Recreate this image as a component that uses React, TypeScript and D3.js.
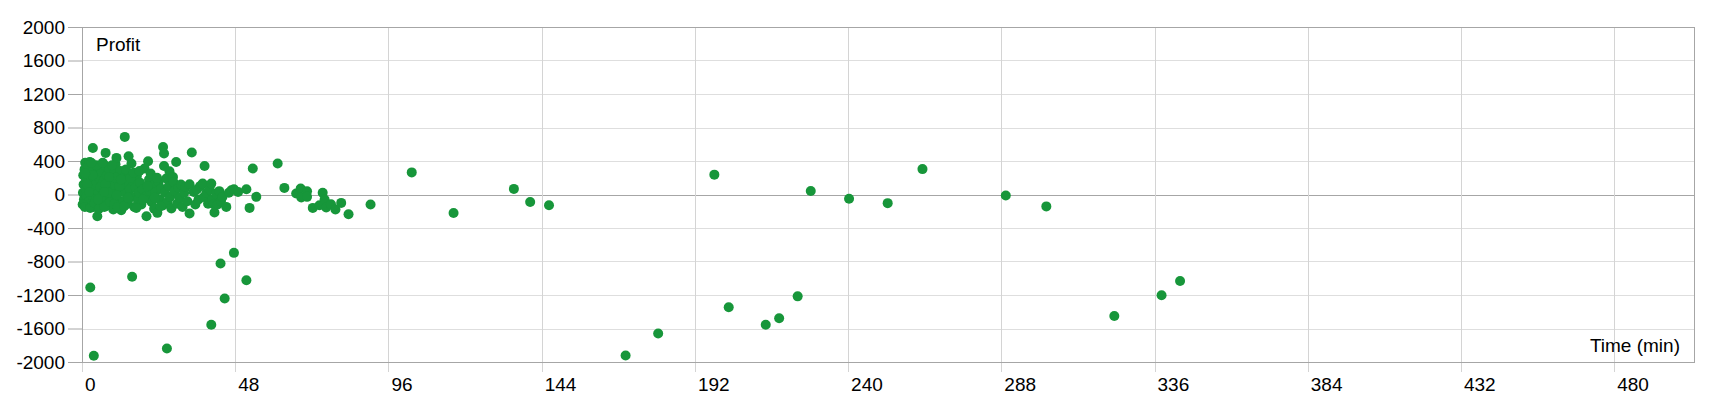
import { useEffect, useRef } from 'react';
import * as d3 from 'd3';

// trade duration (minutes) and profit
const timeMin = [
  0.3, 0.5, 0.4, 0.6, 0.8, 1.0, 1.2, 1.5, 1.3, 1.8, 2.0, 2.1, 2.4, 2.5, 2.8, 3.0, 3.2, 3.4, 3.5, 3.7,
  3.9, 4.2, 4.4, 4.8, 4.6, 5.0, 5.2, 5.5, 5.8, 6.0, 6.2, 6.6, 6.8, 7.1, 7.4, 7.5, 7.8, 8.0, 8.3, 8.6,
  9.0, 9.2, 9.5, 9.8, 10.0, 10.3, 10.5, 10.8, 11.0, 11.3, 11.6, 12.0, 12.3, 12.5, 12.8, 13.0, 13.4, 13.6, 14.0, 14.3,
  14.6, 14.8, 15.0, 15.5, 15.7, 16.0, 16.4, 16.8, 17.2, 17.5, 17.8, 18.2, 18.6, 19.0, 19.6, 20.0, 20.2, 20.7, 21.0, 21.4,
  21.8, 22.2, 22.6, 23.0, 23.6, 24.0, 24.4, 24.8, 25.3, 25.4, 25.7, 25.7, 26.0, 26.4, 26.8, 27.2, 27.4, 27.6, 28.0, 28.5,
  28.6, 29.0, 29.5, 29.8, 30.2, 30.6, 31.0, 31.5, 32.0, 32.5, 33.0, 33.7, 33.7, 34.4, 35.0, 35.5, 36.0, 36.5, 37.0, 37.8,
  38.2, 38.4, 39.0, 39.5, 40.0, 40.5, 40.8, 41.5, 41.2, 42.0, 42.5, 43.0, 43.5, 44.0, 45.2, 46.0, 46.8, 47.6, 48.9, 51.5,
  52.5, 53.5, 54.6, 61.3, 63.4, 67.1, 68.5, 68.7, 70.5, 70.5, 72.3, 74.4, 75.4, 76.0, 76.5, 78.0, 79.4, 81.2, 83.5, 90.4,
  0.2, 0.9, 1.6, 2.2, 2.6, 3.3, 4.0, 4.5, 5.3, 5.7, 6.3, 6.5, 7.0, 7.3, 8.2, 8.8, 9.4, 10.1, 10.6, 11.2,
  11.8, 12.2, 13.2, 13.8, 14.5, 15.2, 16.2, 17.0, 18.0, 19.2, 20.5, 21.5, 22.8, 23.5, 24.6, 1.0, 2.9, 5.0, 6.9, 8.5,
  10.9,
  2.6, 3.7, 15.7, 26.6, 40.5, 43.4, 44.7, 47.6, 51.5, 103.3, 116.4, 135.3, 140.4, 146.3, 170.3, 180.5, 198.1, 202.6, 214.2, 218.4,
  224.2, 228.3, 240.3, 252.4, 263.3, 289.4, 302.1, 323.4, 338.2, 344.0,
];

const profit = [
  20, 120, 230, -60, 300, 380, 60, -20, 180, 270, 340, -90, 389, 100, 210, -10, 150, 556, 300, -148,
  60, 240, -40, -259, 140, 330, 20, 190, -110, 80, 270, -60, 160, 350, 497, 40, 230, -130, 110, 300,
  -30, 190, 60, -180, 250, 120, 360, 437, -50, 170, 30, 280, -187, 90, -80, 200, 688, 20, 120, -110,
  457, 240, 60, 370, -30, 160, -150, 80, 220, -60, 20, 140, -120, 60, 310, -20, -259, 397, 180, 40,
  -90, 110, -170, 30, -219, 150, -60, 70, -130, 568, 489, 341, 20, 190, -90, 100, 278, -30, -167, 210,
  150, 40, 389, -110, 80, -40, 120, -150, 20, 90, -80, 123, -227, 501, 30, -120, 60, -60, 100, 130,
  -30, 341, 20, -110, 60, 130, -60, -215, -116, 10, -120, 40, -80, -30, -148, 20, 51, 63, 31, 63,
  -160, 310, -28, 370, 79, 12, 71, -36, 39, -28, -160, -128, 20, -60, -155, -116, -179, -100, -235, -120,
  -120, -150, 120, 30, -160, 230, -100, 350, -170, 90, -20, 380, -150, 120, 20, -90, 350, -110, 200, -150,
  100, 180, -140, 300, -40, 200, 260, -160, 280, -60, 100, 250, -40, 200, -140, 250, 380, -60, 30, 210,
  -10,
  -1110, -1926, -983, -1838, -1556, -823, -1241, -697, -1023, 264, -221, 67, -90, -129, -1922, -1659, 237, -1347, -1556, -1477,
  -1216, 41, -51, -103, 303, -12, -142, -1451, -1203, -1032,
];

const xTicks = [0, 48, 96, 144, 192, 240, 288, 336, 384, 432, 480];
const yTicks = [-2000, -1600, -1200, -800, -400, 0, 400, 800, 1200, 1600, 2000];

const width = 1720;
const height = 400;

const App = () => {
  const svgRef = useRef<SVGSVGElement>(null);

  useEffect(() => {
    if (!svgRef.current) return;
    d3.select(svgRef.current).selectAll('*').remove();

    const margin = { top: 27, right: 26, bottom: 38, left: 82 };
    const innerWidth = width - margin.left - margin.right;
    const innerHeight = height - margin.top - margin.bottom;
    const font = '"Liberation Sans", Arial, sans-serif';
    const fontSize = '19px';

    const svg = d3.select(svgRef.current);
    const g = svg.append('g')
      .attr('transform', `translate(${margin.left},${margin.top})`);

    const x = d3.scaleLinear().domain([0, 505]).range([0, innerWidth]);
    const y = d3.scaleLinear().domain([-2000, 2000]).range([innerHeight, 0]);

    // grid
    g.append('g')
      .selectAll('line')
      .data(yTicks)
      .join('line')
      .attr('x1', 0)
      .attr('x2', innerWidth)
      .attr('y1', d => Math.round(y(d)) + 0.5)
      .attr('y2', d => Math.round(y(d)) + 0.5)
      .attr('stroke', d => d === 0 ? '#a6a6a6' : '#dedede')
      .attr('stroke-width', 1);

    g.append('g')
      .selectAll('line')
      .data(xTicks)
      .join('line')
      .attr('x1', d => Math.round(x(d)) + 0.5)
      .attr('x2', d => Math.round(x(d)) + 0.5)
      .attr('y1', 0)
      .attr('y2', innerHeight + 10)
      .attr('stroke', '#d4d4d4')
      .attr('stroke-width', 1);

    // y axis
    const yAxis = d3.axisLeft(y)
      .tickValues(yTicks)
      .tickSize(14)
      .tickPadding(3)
      .tickFormat(d => String(d));

    const yg = g.append('g').call(yAxis);
    yg.select('.domain').remove();
    yg.selectAll('.tick line').attr('stroke', '#a6a6a6');
    yg.selectAll('.tick text')
      .style('font-family', font)
      .style('font-size', fontSize)
      .attr('fill', '#000');

    // x labels, left-aligned next to their tick
    g.append('g')
      .selectAll('text')
      .data(xTicks)
      .join('text')
      .attr('x', d => x(d) + 3)
      .attr('y', innerHeight + 29)
      .style('font-family', font)
      .style('font-size', fontSize)
      .attr('fill', '#000')
      .text(d => d);

    // frame
    g.append('rect')
      .attr('x', 0.5)
      .attr('y', 0.5)
      .attr('width', innerWidth)
      .attr('height', innerHeight)
      .attr('fill', 'none')
      .attr('stroke', '#a6a6a6');

    // axis titles
    g.append('text')
      .attr('x', 14)
      .attr('y', 24)
      .style('font-family', font)
      .style('font-size', fontSize)
      .attr('fill', '#000')
      .text('Profit');

    g.append('text')
      .attr('x', innerWidth - 14)
      .attr('y', innerHeight - 10)
      .attr('text-anchor', 'end')
      .style('font-family', font)
      .style('font-size', fontSize)
      .attr('fill', '#000')
      .text('Time (min)');

    // points
    const pts = timeMin.map((t, i) => ({ t, p: profit[i] }));
    g.append('g')
      .selectAll('circle')
      .data(pts)
      .join('circle')
      .attr('cx', d => x(d.t))
      .attr('cy', d => y(d.p))
      .attr('r', 5)
      .attr('fill', '#17963a');
  }, []);

  return (
    <svg
      ref={svgRef}
      width={width}
      height={height}
      style={{ position: 'absolute', left: 0, top: 0, background: '#fff' }}
    />
  );
};

export default App;
